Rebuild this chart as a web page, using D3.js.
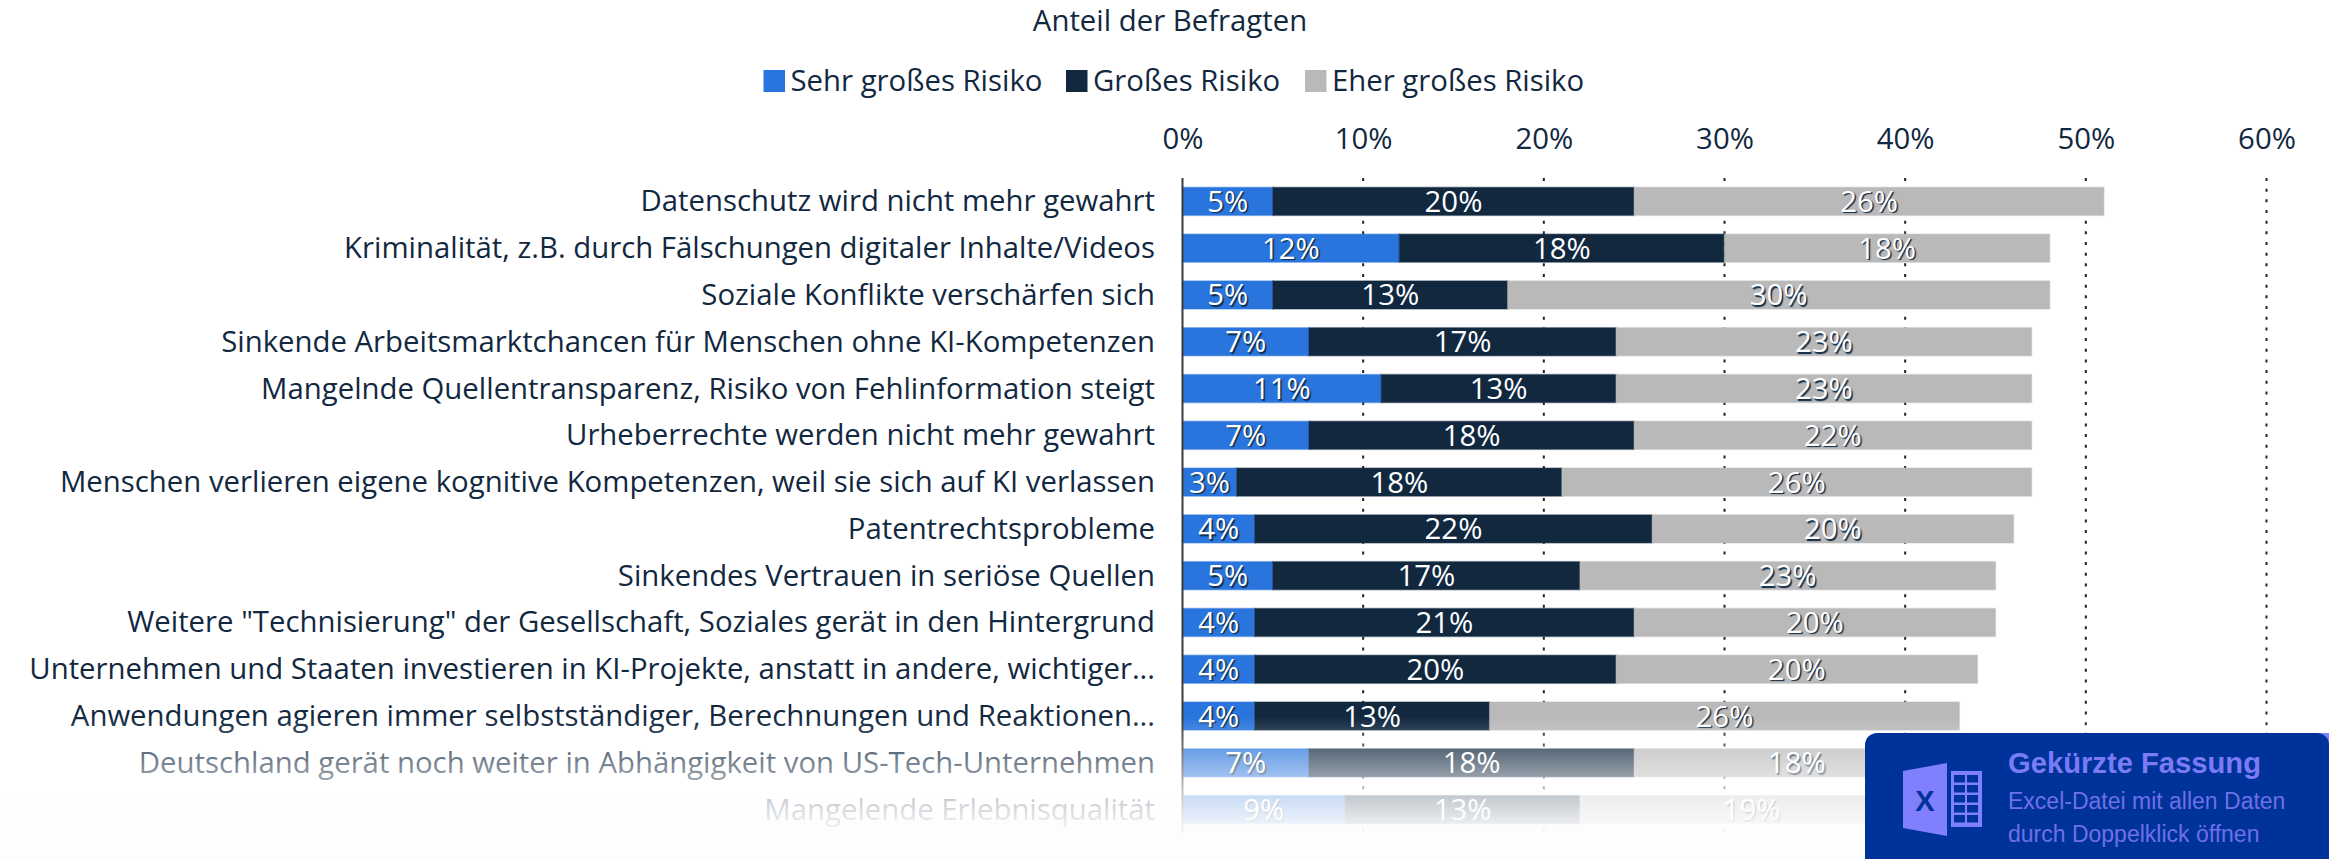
<!DOCTYPE html>
<html lang="de"><head><meta charset="utf-8">
<script src="https://cdn.jsdelivr.net/npm/d3@7"></script>
<style>
html,body{margin:0;padding:0;background:#fff;overflow:hidden}
svg{display:block}
text{font-family:"Open Sans",sans-serif}
.v{text-shadow:1.5px 1.5px 1px #0f2a44}
</style></head><body>
<svg id="c" width="2329" height="859"></svg>
<script>
const categories=["Datenschutz wird nicht mehr gewahrt","Kriminalität, z.B. durch Fälschungen digitaler Inhalte/Videos","Soziale Konflikte verschärfen sich","Sinkende Arbeitsmarktchancen für Menschen ohne KI-Kompetenzen","Mangelnde Quellentransparenz, Risiko von Fehlinformation steigt","Urheberrechte werden nicht mehr gewahrt","Menschen verlieren eigene kognitive Kompetenzen, weil sie sich auf KI verlassen","Patentrechtsprobleme","Sinkendes Vertrauen in seriöse Quellen","Weitere \"Technisierung\" der Gesellschaft, Soziales gerät in den Hintergrund","Unternehmen und Staaten investieren in KI-Projekte, anstatt in andere, wichtiger...","Anwendungen agieren immer selbstständiger, Berechnungen und Reaktionen...","Deutschland gerät noch weiter in Abhängigkeit von US-Tech-Unternehmen","Mangelende Erlebnisqualität"];
const sehrGross=[5,12,5,7,11,7,3,4,5,4,4,4,7,9];
const gross=[20,18,13,17,13,18,18,22,17,21,20,13,18,13];
const eherGross=[26,18,30,23,23,22,26,20,23,20,20,26,18,19];
const seriesNames=["Sehr großes Risiko","Großes Risiko","Eher großes Risiko"];
const seriesColors=["#2a75dd","#12283f","#b9b9b9"];
const xTicks=[0,10,20,30,40,50,60];
const title="Anteil der Befragten";

const FS=29.33;
const svg=d3.select("#c");
const x=d3.scaleLinear().domain([0,60]).range([1182.5,2266.5]);
const y=d3.scaleBand().domain(categories).range([178,833]).paddingInner(0.4).paddingOuter(0.2).round(false);
const ink="#12283f";
const rows=categories.map((c,i)=>({c,vals:[sehrGross[i],gross[i],eherGross[i]]}));

// grid
const grid=svg.append("g");
xTicks.filter(t=>t>0).forEach(t=>{
  grid.append("line").attr("x1",x(t)).attr("x2",x(t)).attr("y1",178).attr("y2",833)
   .attr("stroke","#222").attr("stroke-width",2).attr("stroke-dasharray","3 7.67");
});
// axis top
const ax=d3.axisTop(x).tickValues(xTicks).tickFormat(d=>d+"%").tickSize(0).tickPadding(0);
const axG=svg.append("g").attr("transform","translate(0,149)").call(ax);
axG.select(".domain").remove();
axG.selectAll("text").attr("font-size",FS).attr("fill",ink).style("font-family",'"Open Sans",sans-serif').attr("dy",0);

// bars
const rowG=svg.append("g").selectAll("g").data(rows).join("g").attr("transform",d=>`translate(0,${y(d.c)})`);
const h=y.bandwidth();
rowG.each(function(d){
  const g=d3.select(this);
  let cum=0;
  d.vals.forEach((v,i)=>{
    g.append("rect").attr("x",x(cum)).attr("width",x(cum+v)-x(cum)).attr("y",0).attr("height",h)
      .attr("fill",seriesColors[i]).attr("stroke",seriesColors[i]).attr("stroke-opacity",0.4).attr("stroke-width",1.5);
    cum+=v;
  });
  cum=0;
  d.vals.forEach((v,i)=>{
    g.append("text").attr("class","v").attr("x",(x(cum)+x(cum+v))/2).attr("y",h/2+10.5).attr("text-anchor","middle")
      .attr("font-size",FS).attr("fill","#fff").text(v+"%");
    cum+=v;
  });
});
// category labels
svg.append("g").selectAll("text").data(categories).join("text")
 .attr("x",1155).attr("y",d=>y(d)+h/2+10).attr("text-anchor","end").attr("font-size",FS).attr("fill",ink).text(d=>d);
// axis line
svg.append("line").attr("x1",x(0)).attr("x2",x(0)).attr("y1",178).attr("y2",833).attr("stroke","#3a3a3a").attr("stroke-width",2);

// title & legend
svg.append("text").attr("x",1170).attr("y",31).attr("text-anchor","middle").attr("font-size",FS).attr("fill",ink).text(title);
const legendX=[763.5,1066,1305];
const leg=svg.append("g").selectAll("g").data(seriesNames).join("g").attr("transform",(d,i)=>`translate(${legendX[i]},70)`);
leg.append("rect").attr("width",21.5).attr("height",22).attr("fill",(d,i)=>seriesColors[i]);
leg.append("text").attr("x",27).attr("y",21).attr("font-size",FS).attr("fill",ink).text(d=>d);

// fade
const defs=svg.append("defs");
const gr=defs.append("linearGradient").attr("id","fade").attr("x1",0).attr("x2",0).attr("y1",0).attr("y2",1);
[[0,0],[0.225,0.3],[0.42,0.55],[0.556,0.75],[0.75,0.92],[0.87,0.985],[1,1]].forEach(([o,a])=>{
  gr.append("stop").attr("offset",o).attr("stop-color",o>0.7?"#fdfdfd":"#fff").attr("stop-opacity",a);
});
svg.append("rect").attr("x",0).attr("y",717).attr("width",2329).attr("height",142).attr("fill","url(#fade)");

// Excel badge
const b=svg.append("g");
b.append("rect").attr("x",2310).attr("y",733).attr("width",19).attr("height",20).attr("fill","#8080ff");
b.append("rect").attr("x",1865).attr("y",733).attr("width",464).attr("height",140).attr("rx",12).attr("fill","#003399");
const ic="#8080ff";
b.append("path").attr("d","M1903 771 L1947 763 L1947 836 L1903 828 Z").attr("fill",ic);
b.append("text").attr("x",1925).attr("y",811).attr("text-anchor","middle").attr("font-size",29).attr("font-weight",700).attr("fill","#003399").style("font-family",'"Liberation Sans"').text("X");
b.append("rect").attr("x",1951).attr("y",771).attr("width",31).attr("height",56).attr("fill",ic);
d3.range(5).forEach(r=>d3.range(2).forEach(k=>{
  b.append("rect").attr("x",1954+k*13).attr("y",775+r*10).attr("width",11).attr("height",7.5).attr("fill","#003399");
}));
b.append("text").attr("x",2008).attr("y",773).attr("font-size",29.2).attr("font-weight",700).attr("fill","#7b7bf5").style("font-family",'"Liberation Sans"').text("Gekürzte Fassung");
b.append("text").attr("x",2008).attr("y",809).attr("font-size",23).attr("fill","#6f6fe8").style("font-family",'"Liberation Sans"').text("Excel-Datei mit allen Daten");
b.append("text").attr("x",2008).attr("y",842).attr("font-size",23).attr("fill","#6f6fe8").style("font-family",'"Liberation Sans"').text("durch Doppelklick öffnen");
</script>
</body></html>
